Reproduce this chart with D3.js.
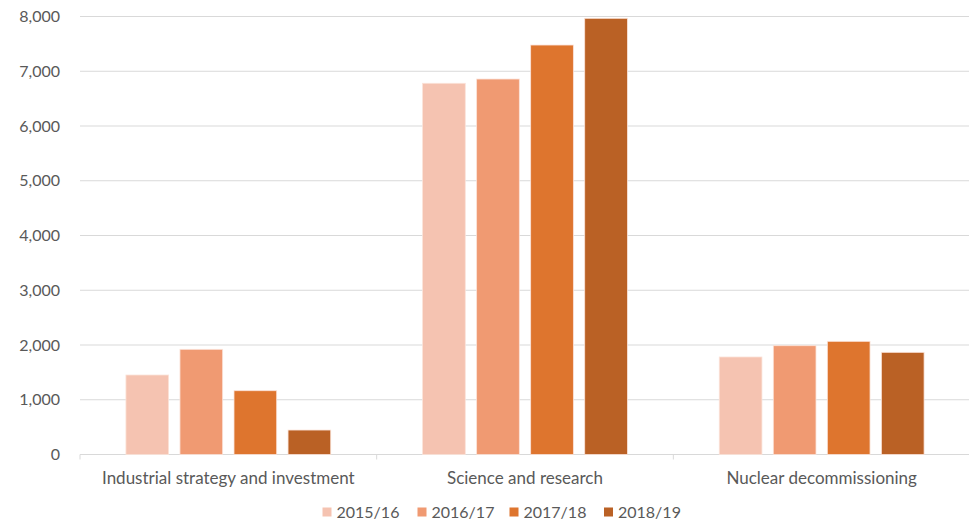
<!DOCTYPE html>
<html>
<head>
<meta charset="utf-8">
<script src="https://cdn.jsdelivr.net/npm/d3@7"></script>
<style>
  html, body { margin: 0; padding: 0; background: #fff; }
  svg { display: block; font-family: "Lato", "Open Sans", "Liberation Sans", sans-serif; }
</style>
</head>
<body>
<svg id="chart" width="969" height="522"></svg>
<script>
// Spending by area and financial year (£ million)
const categories = ["Industrial strategy and investment", "Science and research", "Nuclear decommissioning"];
const years = ["2015/16", "2016/17", "2017/18", "2018/19"];
const industrial = [1452, 1921, 1165, 447];
const science = [6780, 6858, 7479, 7967];
const nuclear = [1781, 1987, 2067, 1866];
const seriesValues = [industrial, science, nuclear];
const yTicks = [0, 1000, 2000, 3000, 4000, 5000, 6000, 7000, 8000];
const colors = ["#F5C3B1", "#F09A72", "#DE752E", "#BA6125"];

const svg = d3.select("#chart");
const margin = { left: 80, right: -1, top: 16.5, bottom: 67.5 };
const W = 969, H = 522;

const x0 = d3.scaleBand().domain(categories).range([margin.left, W - margin.right]).paddingInner(0).paddingOuter(0);
const x1 = d3.scaleBand().domain(years).range([0, x0.bandwidth()]).paddingInner(0.21).paddingOuter(0.85);
const y = d3.scaleLinear().domain([0, 8000]).range([H - margin.bottom, margin.top]);

// horizontal gridlines
svg.append("g").selectAll("line").data(yTicks).join("line")
  .attr("x1", margin.left).attr("x2", W - margin.right)
  .attr("y1", d => y(d)).attr("y2", d => y(d))
  .attr("stroke", "#d9d9d9").attr("stroke-width", 1);

// y axis labels
const fmt = d3.format(",");
svg.append("g").selectAll("text").data(yTicks).join("text")
  .attr("x", 60).attr("y", d => y(d)).attr("dy", "0.35em")
  .attr("text-anchor", "end").attr("font-size", 16).attr("fill", "#595959")
  .text(d => fmt(d));

// category boundary ticks on the baseline
const bounds = [margin.left].concat(categories.map(c => x0(c) + x0.bandwidth()));
svg.append("g").selectAll("line").data(bounds).join("line")
  .attr("x1", d => d).attr("x2", d => d)
  .attr("y1", y(0)).attr("y2", y(0) + 5)
  .attr("stroke", "#d9d9d9");

// bars
const groups = svg.append("g").selectAll("g").data(categories).join("g")
  .attr("transform", c => `translate(${x0(c)},0)`);
groups.selectAll("rect")
  .data((c, i) => seriesValues[i].map((v, j) => ({ year: years[j], v, j })))
  .join("rect")
  .attr("x", d => x1(d.year)).attr("width", x1.bandwidth())
  .attr("y", d => y(d.v)).attr("height", d => y(0) - y(d.v))
  .attr("fill", d => colors[d.j])
  .attr("stroke", "#fbe3d9").attr("stroke-width", 0.8);

// category labels
svg.append("g").selectAll("text").data(categories).join("text")
  .attr("x", c => x0(c) + x0.bandwidth() / 2).attr("y", 478).attr("dy", "0.35em")
  .attr("text-anchor", "middle").attr("font-size", 17).attr("fill", "#595959")
  .text(c => c);

// legend
const legendX = [322.5, 417.5, 509.5, 604];
const leg = svg.append("g").selectAll("g").data(years).join("g")
  .attr("transform", (d, i) => `translate(${legendX[i]},512)`);
leg.append("rect").attr("x", 0).attr("y", -4.5).attr("width", 9).attr("height", 9)
  .attr("fill", (d, i) => colors[i]);
leg.append("text").attr("x", 14).attr("y", 0).attr("dy", "0.35em")
  .attr("font-size", 16).attr("fill", "#595959").text(d => d);
</script>
</body>
</html>
